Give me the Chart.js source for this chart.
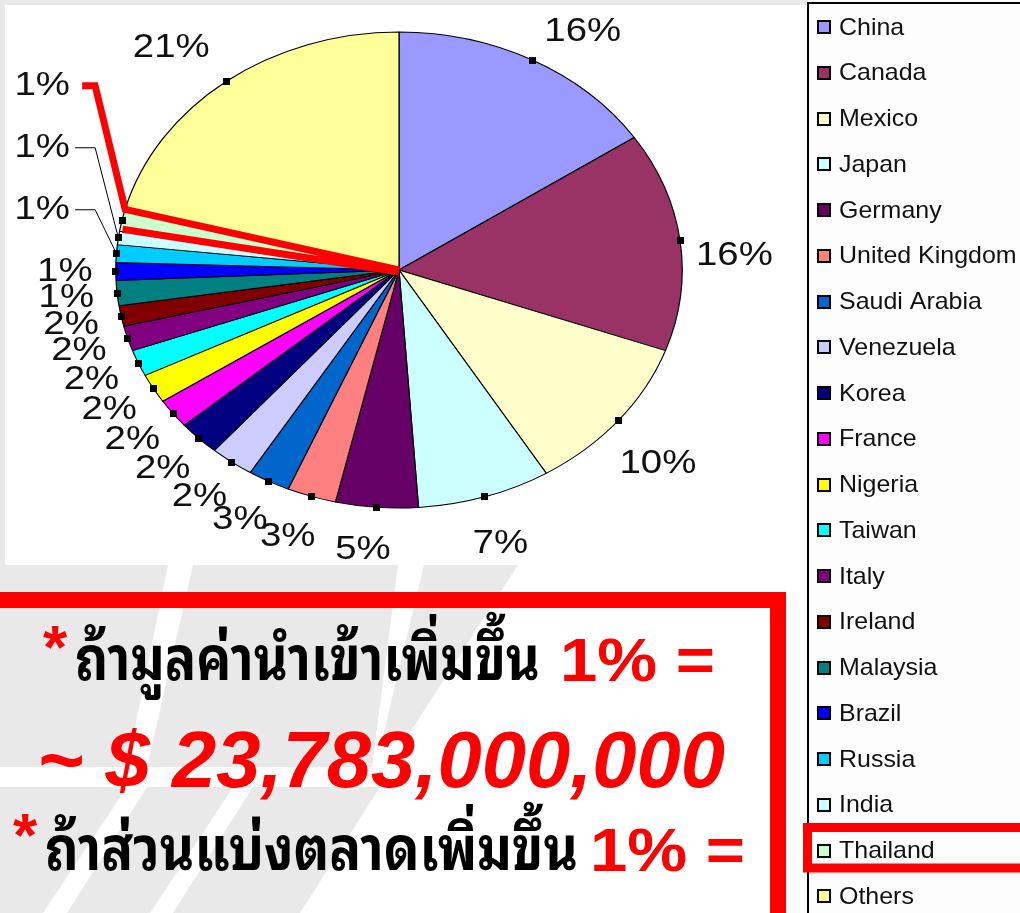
<!DOCTYPE html>
<html>
<head>
<meta charset="utf-8">
<script src="https://cdn.jsdelivr.net/npm/chart.js@4.4.0/dist/chart.umd.min.js"></script>
<style>
  html, body { margin: 0; padding: 0; background: #fff; overflow: hidden; }
  canvas { display: block; }
</style>
</head>
<body>
<canvas id="importPie" width="1020" height="913"></canvas>
<script>
const countries = ['China', 'Canada', 'Mexico', 'Japan', 'Germany', 'United Kingdom', 'Saudi Arabia', 'Venezuela', 'Korea', 'France',
  'Nigeria', 'Taiwan', 'Italy', 'Ireland', 'Malaysia', 'Brazil', 'Russia', 'India', 'Thailand', 'Others'];
const shares = [15.6, 14.9, 10.8, 7.6, 4.7, 2.8, 2.4, 2.5, 2.4, 2.0, 2.0, 1.8, 1.7, 1.4, 1.7, 1.2, 1.2, 0.9, 1.5, 20.9];
const shareLabels = ['16%', '16%', '10%', '7%', '5%', '3%', '3%', '2%', '2%', '2%', '2%', '2%', '2%', '2%', '1%', '1%', '1%', '1%', '1%', '21%'];
const sliceColours = ['#9999FF', '#993366', '#FFFFCC', '#CCFFFF', '#660066', '#FF8080', '#0066CC', '#CCCCFF', '#000080', '#FF00FF',
  '#FFFF00', '#00FFFF', '#800080', '#800000', '#008080', '#0000FF', '#00CCFF', '#CCFFFF', '#CCFFCC', '#FFFF99'];
const calloutCountries = ['Russia', 'India', 'Thailand'];
const highlighted = 'Thailand';

const noteImport = 'ถ้ามูลค่านำเข้าเพิ่มขึ้น';
const noteShare = 'ถ้าส่วนแบ่งตลาดเพิ่มขึ้น';
const noteStep = '1% =';
const noteValue = '~ $ 23,783,000,000';

const SX = 1.19;   // the pie is drawn stretched sideways, like the picture
const RED = '#FF0000';
const LATIN = "'Liberation Sans', Arial, sans-serif";
const THAI = "'Noto Sans Thai Looped', Loma, Garuda, Norasi, Kinnari, Waree, Umpush, 'Tlwg Typo', 'Noto Serif Thai', 'Noto Sans Thai', 'Noto Sans', sans-serif";

function edge(arc, angle, k) {
  return {
    x: arc.x + Math.cos(angle) * arc.outerRadius * k * SX,
    y: arc.y + Math.sin(angle) * arc.outerRadius * k
  };
}

function fitText(ctx, text, x, y, width, font, colour) {
  ctx.save();
  ctx.font = font;
  ctx.textAlign = 'left';
  ctx.textBaseline = 'alphabetic';
  const w = ctx.measureText(text).width;
  ctx.translate(x, y);
  ctx.scale(width / w, 1);
  ctx.fillStyle = colour;
  ctx.fillText(text, 0, 0);
  ctx.restore();
}

function poly(ctx, pts) {
  ctx.beginPath();
  pts.forEach(([x, y], i) => i ? ctx.lineTo(x, y) : ctx.moveTo(x, y));
  ctx.closePath();
  ctx.fill();
}

// slide background swooshes + white chart panel
const backdrop = {
  id: 'backdrop',
  beforeDraw(chart) {
    const ctx = chart.ctx;
    ctx.save();
    ctx.fillStyle = '#fff';
    ctx.fillRect(0, 0, chart.width, chart.height);
    ctx.fillStyle = '#e9e9e9';
    ctx.fillRect(0, 0, 807, 5);
    ctx.fillRect(0, 0, 5, 565);
    poly(ctx, [[0, 565], [168, 565], [127, 767], [0, 767]]);
    poly(ctx, [[193, 565], [398, 565], [372, 767], [147, 767]]);
    poly(ctx, [[424, 565], [518, 565], [405, 740], [382, 740]]);
    poly(ctx, [[0, 787], [127, 787], [43, 913], [0, 913]]);
    poly(ctx, [[147, 787], [233, 787], [150, 913], [67, 913]]);
    poly(ctx, [[253, 787], [380, 787], [300, 913], [173, 913]]);
    ctx.fillStyle = '#fff';
    ctx.fillRect(5, 5, 785, 560);
    ctx.restore();
  }
};

const stretchPie = {
  id: 'stretchPie',
  beforeDatasetsDraw(chart) {
    const arc = chart.getDatasetMeta(0).data[0];
    const ctx = chart.ctx;
    ctx.save();
    ctx.translate(arc.x, arc.y);
    ctx.scale(SX, 1);
    ctx.translate(-arc.x, -arc.y);
  },
  afterDatasetsDraw(chart) {
    chart.ctx.restore();
  }
};

const pieLabels = {
  id: 'pieLabels',
  afterDatasetsDraw(chart) {
    const ctx = chart.ctx;
    const arcs = chart.getDatasetMeta(0).data;
    const labels = chart.data.labels;
    const centre = arcs[0];
    ctx.save();
    ctx.font = '34px ' + LATIN;
    ctx.textAlign = 'center';
    ctx.textBaseline = 'middle';

    let lastY = 0;
    const calloutX = centre.x - centre.outerRadius * SX * 1.26;
    arcs.forEach((arc, i) => {
      const mid = (arc.startAngle + arc.endAngle) / 2;
      const c = Math.cos(mid), s = Math.sin(mid);
      const rim = edge(arc, mid, 1.0);
      let pos;
      if (calloutCountries.includes(labels[i])) {
        pos = { x: calloutX, y: lastY - 62 };
        lastY = pos.y;
        ctx.beginPath();
        if (labels[i] === highlighted) {
          const end = edge(arc, arc.endAngle, 1.0);
          const start = edge(arc, arc.startAngle, 1.0);
          ctx.strokeStyle = RED;
          ctx.lineWidth = 7;
          ctx.lineJoin = 'miter';
          ctx.moveTo(pos.x + 40, pos.y);
          ctx.lineTo(pos.x + 53, pos.y);
          ctx.lineTo(end.x, end.y);
          ctx.lineTo(centre.x, centre.y);
          ctx.moveTo(start.x + 3, start.y - 2);
          ctx.lineTo(centre.x, centre.y + 2);
        } else {
          ctx.strokeStyle = '#000';
          ctx.lineWidth = 1;
          ctx.moveTo(pos.x + 33, pos.y);
          ctx.lineTo(pos.x + 53, pos.y);
          ctx.lineTo(rim.x, rim.y);
        }
        ctx.stroke();
      } else {
        pos = edge(arc, mid, 1.18);
        lastY = pos.y;
        // labels on the upper side drift outward, on the right side downward
        pos.x += 30 * Math.max(0, -s) * Math.sign(c);
        pos.y += 20 * Math.max(0, c);
        if (c < 0 && s > 0) pos.x -= 40 * Math.max(0, s - 0.75);
      }
      ctx.fillStyle = '#000';
      ctx.fillRect(Math.round(rim.x - 3.5), Math.round(rim.y - 3.5), 7, 7);
      ctx.save();
      ctx.translate(pos.x, pos.y);
      ctx.scale(1.13, 1);
      ctx.fillStyle = '#111';
      ctx.fillText(shareLabels[i], 0, 0);
      ctx.restore();
    });
    ctx.restore();
  }
};

const sideLegend = {
  id: 'sideLegend',
  afterDraw(chart) {
    const ctx = chart.ctx;
    const labels = chart.data.labels;
    const colours = chart.data.datasets[0].backgroundColor;
    const rowY = i => 27 + i * 45.75;
    ctx.save();
    ctx.fillStyle = '#fdfdfd';
    ctx.fillRect(808, 3, 212, 910);
    ctx.strokeStyle = '#000';
    ctx.lineWidth = 2;
    ctx.strokeRect(808, 3, 300, 1000);
    ctx.font = '24px ' + LATIN;
    ctx.textAlign = 'left';
    ctx.textBaseline = 'middle';
    labels.forEach((name, i) => {
      const y = rowY(i);
      ctx.fillStyle = '#000';
      ctx.fillRect(817, Math.round(y - 7), 14, 14);
      ctx.fillStyle = colours[i];
      ctx.fillRect(819, Math.round(y - 5), 10, 10);
      ctx.save();
      ctx.translate(839, y + 1);
      ctx.scale(1.04, 1);
      ctx.fillStyle = '#111';
      ctx.fillText(name, 0, 0);
      ctx.restore();
    });
    const t = rowY(labels.indexOf(highlighted));
    ctx.strokeStyle = RED;
    ctx.lineWidth = 9;
    ctx.strokeRect(807.5, t - 23, 300, 40.5);
    ctx.restore();
  }
};

const notes = {
  id: 'notes',
  afterDraw(chart) {
    const ctx = chart.ctx;
    ctx.save();
    ctx.strokeStyle = RED;
    ctx.lineWidth = 16;
    ctx.strokeRect(-20, 600, 798, 400);

    ctx.font = 'bold 62px ' + LATIN;
    ctx.fillStyle = RED;
    ctx.fillText('*', 43, 668);
    ctx.fillText('*', 13, 856);

    fitText(ctx, noteImport, 75, 680, 465, 'bold 60px ' + THAI, '#000');
    fitText(ctx, noteStep, 560, 681, 155, 'bold 62px ' + LATIN, RED);
    fitText(ctx, noteValue, 37, 787, 688, 'italic bold 80px ' + LATIN, RED);
    fitText(ctx, noteShare, 45, 870, 533, 'bold 60px ' + THAI, '#000');
    fitText(ctx, noteStep, 590, 871, 155, 'bold 62px ' + LATIN, RED);
    ctx.restore();
  }
};

new Chart(document.getElementById('importPie'), {
  type: 'pie',
  data: {
    labels: countries,
    datasets: [{
      data: shares,
      backgroundColor: sliceColours,
      borderColor: '#000',
      borderWidth: 1,
      hoverOffset: 0,
      clip: false
    }]
  },
  options: {
    responsive: false,
    animation: false,
    radius: 238,
    layout: { padding: { left: 161, right: 383, top: 32, bottom: 405 } },
    plugins: {
      legend: { display: false },
      tooltip: { enabled: false }
    }
  },
  plugins: [backdrop, stretchPie, pieLabels, sideLegend, notes]
});
</script>
</body>
</html>
